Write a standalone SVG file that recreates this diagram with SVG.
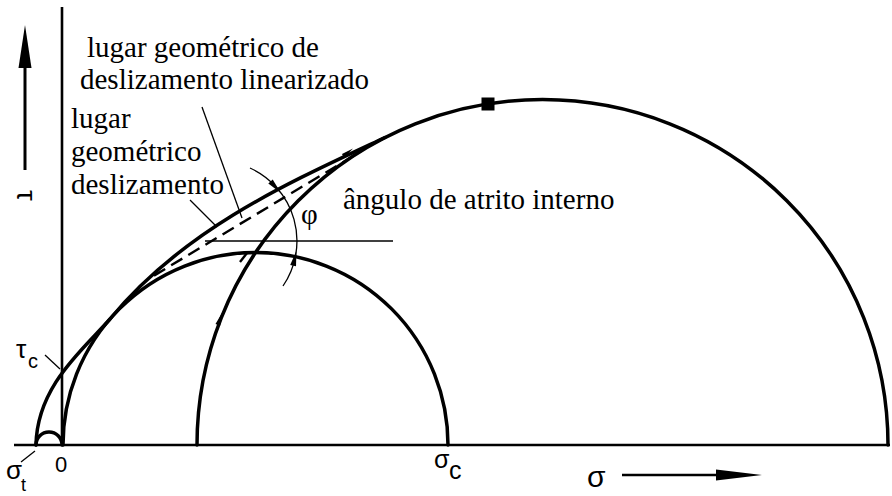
<svg xmlns="http://www.w3.org/2000/svg" width="892" height="496" viewBox="0 0 892 496">
<style>
.thick{fill:none;stroke:#000;stroke-width:3.5;stroke-linecap:round}
.axis{fill:none;stroke:#000;stroke-width:2.6}
.thin{fill:none;stroke:#000;stroke-width:1.3}
.dash{fill:none;stroke:#000;stroke-width:2.4;stroke-dasharray:13 7}
.serif{font-family:"Liberation Serif","Times New Roman",serif;font-size:29px;fill:#000}
.sans{font-family:"Liberation Sans",Arial,sans-serif;fill:#000}
</style>
<rect width="892" height="496" fill="#fff"/>

<g id="axes">
  <line class="axis" x1="14" y1="445" x2="890" y2="445"/>
  <line class="axis" x1="62" y1="7" x2="62" y2="445"/>
  <line x1="25" y1="170" x2="25" y2="60" stroke="#000" stroke-width="3"/>
  <polygon points="25,25 18.5,68 31.5,68" fill="#000"/>
  <line x1="622" y1="475" x2="720" y2="475" stroke="#000" stroke-width="2.6"/>
  <polygon points="716,469.5 762,475 716,480.5" fill="#000"/>
</g>

<g id="circles">
  <path id="circle-large" class="thick" d="M197,445 A345.5,345.5 0 0 1 888,445"/>
  <path id="circle-small" class="thick" d="M63,445 A192.5,192.5 0 0 1 448,445"/>
  <path id="circle-tension" class="thick" stroke-width="3" d="M36,445 A13,13 0 0 1 62,445"/>
  <rect x="481.5" y="97.5" width="13" height="13" fill="#000"/>
</g>

<g id="envelope">
  <path class="thick" d="M36,445 C37,385 85,348 110,319 C185,228 290,182 385,137.5"/>
  <line class="dash" x1="154" y1="275.6" x2="355" y2="155"/>
  <line x1="240" y1="262" x2="247" y2="253" stroke="#000" stroke-width="2.4"/>
  <polygon points="223.3,310.8 220.1,325.7 215.5,323.9" fill="#000"/>
  <polygon points="353,148.5 342,154 344,158" fill="#000"/>
</g>

<g id="angle">
  <line class="thin" x1="205" y1="241" x2="393" y2="241"/>
  <path class="thin" d="M250,168 A80,80 0 0 1 283,286"/>
  <polygon points="280.9,192.9 268.3,183.5 272.7,179.5" fill="#000"/>
  <polygon points="296.4,250.7 296,266.3 290.2,265.1" fill="#000"/>
  <text class="serif" x="301" y="224" font-size="26">φ</text>
</g>

<g id="connectors">
  <line class="thin" x1="202" y1="107" x2="242" y2="218"/>
  <line class="thin" x1="190" y1="200" x2="217" y2="227"/>
  <line class="thin" stroke-width="2" x1="45" y1="355" x2="60" y2="369"/>
  <line class="thin" stroke-width="2" x1="21" y1="462" x2="35" y2="451"/>
</g>

<g id="label-linearizado">
  <text class="serif" x="87" y="57">lugar geométrico de</text>
  <text class="serif" x="80" y="89">deslizamento linearizado</text>
</g>
<g id="label-deslizamento">
  <text class="serif" x="71" y="128">lugar</text>
  <text class="serif" x="71" y="161">geométrico</text>
  <text class="serif" x="71" y="194">deslizamento</text>
</g>
<g id="label-angulo">
  <text class="serif" x="343" y="209">ângulo de atrito interno</text>
</g>

<g id="axis-labels">
  <text class="sans" font-size="27" transform="translate(17,190) rotate(90)">τ</text>
  <text class="sans" font-size="26" x="16" y="358">τ</text>
  <text class="sans" font-size="20" x="28" y="368">c</text>
  <text class="sans" font-size="22" x="55" y="472">0</text>
  <text class="sans" font-size="26" x="6" y="479">σ</text>
  <text class="sans" font-size="18" x="21" y="491">t</text>
  <text class="sans" font-size="25" x="434" y="468">σ</text>
  <text class="sans" font-size="25" x="449" y="479">c</text>
  <text class="sans" font-size="30" x="587" y="487">σ</text>
</g>
</svg>
